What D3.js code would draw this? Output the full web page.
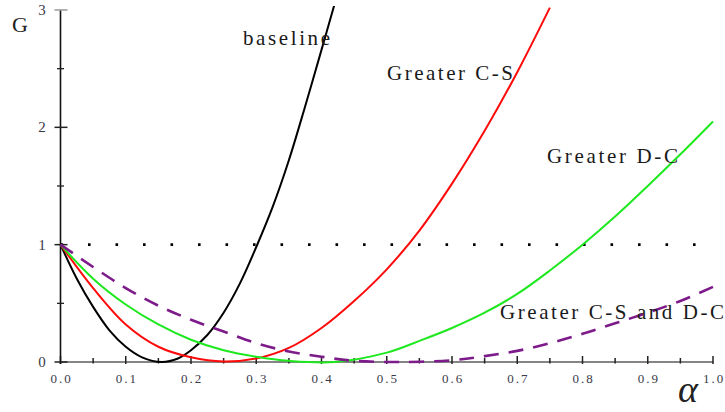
<!DOCTYPE html>
<html>
<head>
<meta charset="utf-8">
<script src="https://cdn.jsdelivr.net/npm/d3@7"></script>
<style>
  body { margin: 0; background: #fff; }
  svg { display: block; }
</style>
</head>
<body>
<div class="chart"></div>
<script>
// G against alpha, four cases

var width = 725, height = 412;
var serif = "Liberation Serif";

var xTicks = [0, 0.1, 0.2, 0.3, 0.4, 0.5, 0.6, 0.7, 0.8, 0.9, 1.0];
var xMinor = [0.05, 0.15, 0.25, 0.35, 0.45, 0.55, 0.65, 0.75, 0.85, 0.95];
var yTicks = [0, 1, 2, 3];
var yMinor = [0.5, 1.5, 2.5];

var baselineAlpha = [0, 0.025, 0.05, 0.075, 0.1, 0.125, 0.155, 0.18, 0.2, 0.225, 0.25, 0.275, 0.3, 0.325, 0.35, 0.375, 0.4, 0.42];
var baselineG = [1, 0.71, 0.47, 0.27, 0.13, 0.04, 0, 0.03, 0.10, 0.23, 0.42, 0.67, 0.98, 1.32, 1.72, 2.18, 2.66, 3.05];

var csAlpha = [0, 0.05, 0.1, 0.15, 0.2, 0.25, 0.3, 0.35, 0.4, 0.45, 0.5, 0.55, 0.6, 0.65, 0.7, 0.75];
var csG = [1, 0.63, 0.32, 0.13, 0.04, 0.005, 0.03, 0.12, 0.29, 0.52, 0.79, 1.12, 1.52, 1.97, 2.47, 3.02];

var dcAlpha = [0, 0.05, 0.1, 0.15, 0.2, 0.25, 0.3, 0.35, 0.42, 0.5, 0.55, 0.6, 0.65, 0.7, 0.75, 0.8, 0.85, 0.9, 0.95, 1.0];
var dcG = [1, 0.71, 0.49, 0.32, 0.19, 0.10, 0.045, 0.01, 0, 0.08, 0.18, 0.29, 0.42, 0.58, 0.78, 1.0, 1.24, 1.50, 1.77, 2.05];

var bothAlpha = [0, 0.05, 0.1, 0.15, 0.2, 0.25, 0.3, 0.35, 0.4, 0.45, 0.52, 0.6, 0.65, 0.7, 0.75, 0.8, 0.85, 0.9, 0.95, 1.0];
var bothG = [1, 0.81, 0.63, 0.48, 0.36, 0.26, 0.16, 0.09, 0.045, 0.01, 0, 0.015, 0.05, 0.095, 0.16, 0.24, 0.33, 0.42, 0.52, 0.64];

var refAlpha = [0, 1];
var refG = [1, 1];

var seriesNames = ['baseline', 'Greater C-S', 'Greater D-C', 'Greater C-S and D-C'];

var x = d3.scaleLinear().domain([0, 1]).range([60.5, 713]);
var y = d3.scaleLinear().domain([0, 3]).range([362, 10]);

var svg = d3.select('.chart').append('svg').attr('width', width).attr('height', height);

svg.append('defs').append('clipPath').attr('id', 'plot')
  .append('rect').attr('x', 55).attr('y', 6).attr('width', 670).attr('height', 360);

var zip = function(a, g) {
  return a.map(function(v, i) { return [v, g[i]]; });
};

var line = d3.line().x(d => x(d[0])).y(d => y(d[1])).curve(d3.curveCatmullRom.alpha(0.5));

// x axis
svg.append('line')
  .attr('x1', x(0)).attr('x2', x(1)).attr('y1', y(0)).attr('y2', y(0))
  .attr('stroke', '#858585').attr('stroke-width', 2);

svg.selectAll('.xmaj').data(xTicks).enter().append('line')
  .attr('x1', d => x(d)).attr('x2', d => x(d))
  .attr('y1', y(0) - 6).attr('y2', y(0) + 2)
  .attr('stroke', '#222').attr('stroke-width', 1.5);

svg.selectAll('.xmin').data(xMinor).enter().append('line')
  .attr('x1', d => x(d)).attr('x2', d => x(d))
  .attr('y1', y(0) - 4).attr('y2', y(0) + 1.5)
  .attr('stroke', '#222').attr('stroke-width', 1.5);

svg.selectAll('.xlab').data(xTicks).enter().append('text')
  .attr('x', d => x(d) + 1).attr('y', 383)
  .attr('text-anchor', 'middle')
  .attr('font-family', serif)
  .attr('font-size', 13).attr('letter-spacing', 2)
  .attr('fill', '#3a3a48')
  .text(d => d.toFixed(1));

// y axis
svg.append('line')
  .attr('x1', x(0)).attr('x2', x(0)).attr('y1', y(3)).attr('y2', y(0) + 2)
  .attr('stroke', '#111').attr('stroke-width', 1.6);

svg.selectAll('.ymaj').data(yTicks).enter().append('line')
  .attr('x1', x(0) - 6).attr('x2', x(0) + 7)
  .attr('y1', d => y(d)).attr('y2', d => y(d))
  .attr('stroke', d => d === 3 ? '#999' : '#222').attr('stroke-width', 1.5);

svg.selectAll('.ymin').data(yMinor).enter().append('line')
  .attr('x1', x(0) - 3.5).attr('x2', x(0) + 3.5)
  .attr('y1', d => y(d)).attr('y2', d => y(d))
  .attr('stroke', '#222').attr('stroke-width', 1.3);

svg.selectAll('.ylab').data(yTicks).enter().append('text')
  .attr('x', 42).attr('y', d => y(d) + 5)
  .attr('text-anchor', 'middle')
  .attr('font-family', serif)
  .attr('font-size', 15)
  .attr('fill', '#3a3a48')
  .text(d => d);

svg.append('text').attr('x', 12).attr('y', 31.5)
  .attr('font-family', serif)
  .attr('font-size', 22).attr('fill', '#222').text('G');

svg.append('text').attr('x', 678).attr('y', 402)
  .attr('font-family', serif)
  .attr('font-size', 38).attr('font-style', 'italic').attr('fill', '#222').text('α');

// reference line G = 1
svg.append('path')
  .attr('d', line(zip(refAlpha, refG)))
  .attr('fill', 'none').attr('stroke', '#000').attr('stroke-width', 2.6)
  .attr('stroke-dasharray', '2.6,24.9');

var plot = svg.append('g').attr('clip-path', 'url(#plot)');

var curves = [
  { data: zip(baselineAlpha, baselineG), color: '#000000', dash: null },
  { data: zip(csAlpha, csG), color: '#ff0a0a', dash: null },
  { data: zip(dcAlpha, dcG), color: '#1ee81e', dash: null },
  { data: zip(bothAlpha, bothG), color: '#7d1b8b', dash: '15,10' }
];

curves.forEach(function(c) {
  plot.append('path')
    .attr('d', line(c.data))
    .attr('fill', 'none')
    .attr('stroke', c.color)
    .attr('stroke-width', c.dash ? 2.6 : 2)
    .attr('stroke-dasharray', c.dash);
});

// curve labels
var labelPos = [
  { x: 243, y: 45, w: 87 },
  { x: 387, y: 80, w: 126 },
  { x: 547, y: 163, w: 131 },
  { x: 500, y: 319, w: 224 }
];

svg.selectAll('.lab').data(seriesNames).enter().append('text')
  .attr('x', (d, i) => labelPos[i].x).attr('y', (d, i) => labelPos[i].y)
  .attr('font-family', serif)
  .attr('font-size', 21).attr('fill', '#1a1a1a')
  .attr('textLength', (d, i) => labelPos[i].w).attr('lengthAdjust', 'spacing')
  .text(d => d);
</script>
</body>
</html>
